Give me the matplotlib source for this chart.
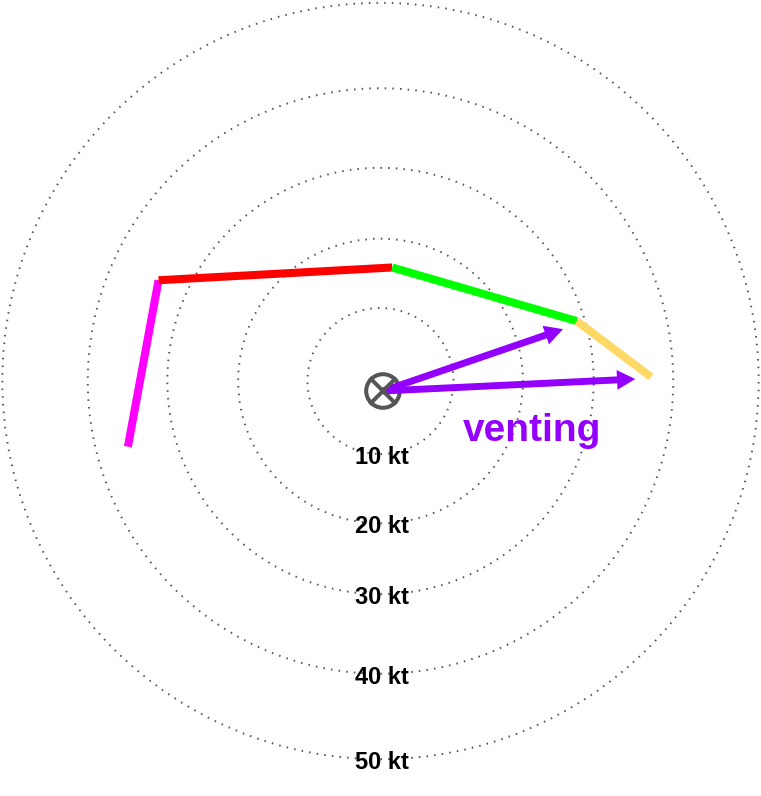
import matplotlib
matplotlib.use('Agg')
import matplotlib.pyplot as plt
from matplotlib.patches import Circle

plt.rcParams['font.family'] = ['Liberation Sans', 'DejaVu Sans']

# ring speeds (labels) and the radius each ring is drawn at, in kt
ring_labels = ['10 kt', '20 kt', '30 kt', '40 kt', '50 kt']
ring_radius = [10.0, 19.5, 29.2, 40.1, 51.8]

# hodograph points (u, v in kt) and segment colours
hodo_u = [-34.6, -30.4, 1.6, 26.9, 37.05]
hodo_v = [-9.0, 13.8, 15.55, 8.2, 0.55]
seg_colors = ['#ff00ff', '#ff0000', '#00ff00', '#ffd966']

# venting wind arrows, from the storm marker
origin = (0.34, -1.37)
arrow_u = [25.0, 34.9]
arrow_v = [7.1, 0.27]
purple = '#9400ff'

fig = plt.figure(figsize=(7.61, 7.96), dpi=100)
ax = fig.add_axes([0, 0, 1, 1])
ax.set_xlim(-52.12, 52.12)
ax.set_ylim(-56.85, 52.19)
ax.axis('off')

for r, lab in zip(ring_radius, ring_labels):
    ax.add_patch(Circle((0, 0), r, fill=False, edgecolor='#555555',
                        linewidth=1.4, linestyle=(0, (0.8, 3.15))))
    ax.text(0.2, -r - 0.45, lab, ha='center', va='center', fontsize=17,
            fontweight='bold', color='black')

for i, c in enumerate(seg_colors):
    ax.plot(hodo_u[i:i + 2], hodo_v[i:i + 2], color=c, linewidth=5.8,
            solid_capstyle='butt')

# storm motion marker
ax.add_patch(Circle(origin, 2.3, fill=False, edgecolor='#555555', linewidth=2.9))
d = 2.3 * 0.707
ax.plot([origin[0] - d, origin[0] + d], [origin[1] - d, origin[1] + d], color='#555555', lw=2.9)
ax.plot([origin[0] - d, origin[0] + d], [origin[1] + d, origin[1] - d], color='#555555', lw=2.9)

for u, v in zip(arrow_u, arrow_v):
    ax.arrow(origin[0], origin[1], u - origin[0], v - origin[1], width=0.95,
             head_width=2.7, head_length=2.5, length_includes_head=True,
             color=purple, linewidth=0)

ax.text(20.75, -6.9, 'venting', ha='center', va='center', fontsize=28,
        fontweight='bold', color=purple)

fig.savefig('out.png', dpi=100)
